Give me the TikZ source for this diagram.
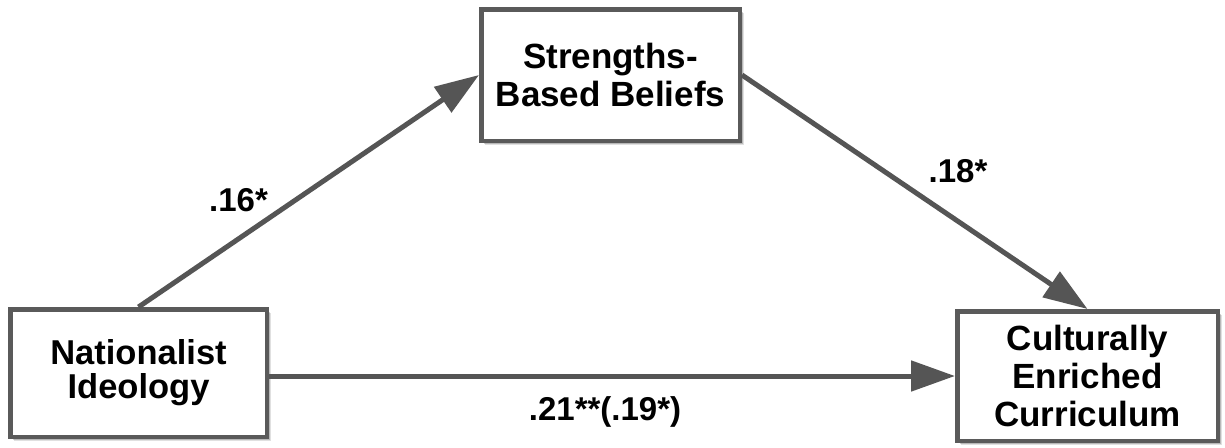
\documentclass[tikz,border=0pt]{standalone}
\usepackage{fontspec}
\setmainfont{Liberation Sans}
\usetikzlibrary{arrows.meta,shadows}
\definecolor{linegray}{HTML}{555555}
\definecolor{boxgray}{HTML}{5A5A5A}
\tikzset{
  varbox/.style={draw=boxgray, line width=4.5pt, fill=white, align=center,
    font=\bfseries\fontsize{35}{38}\selectfont, inner sep=0pt,
    drop shadow={shadow xshift=4pt, shadow yshift=-4pt, opacity=0.12, fill=black},
    drop shadow={shadow xshift=3pt, shadow yshift=-3pt, opacity=0.18, fill=black},
    drop shadow={shadow xshift=1.5pt, shadow yshift=-1.5pt, opacity=0.25, fill=black}},
  path/.style={draw=linegray, line width=5pt, -{Triangle[length=44pt,width=30pt]}},
  coef/.style={font=\bfseries\fontsize{33}{36}\selectfont, anchor=base, inner sep=0pt}
}
\begin{document}
\begin{tikzpicture}[x=1pt,y=-1pt]
\useasboundingbox (0,0) rectangle (1225,447);
\node[varbox, minimum width=256.5pt, minimum height=127.5pt,
  font=\bfseries\fontsize{34.5}{34}\selectfont] (ni) at (138.5,373) {Nationalist\\Ideology};
\node[varbox, minimum width=258.5pt, minimum height=131.5pt] (sb) at (610.5,75) {Strengths-\\Based Beliefs};
\node[varbox, minimum width=260.5pt, minimum height=129.5pt] (cc) at (1087.5,376) {Culturally\\Enriched\\Curriculum};
\draw[path] (ni.north) -- (sb.west);
\draw[path] (sb.east) -- (cc.north);
\draw[path] (ni.east |- 0,376) coordinate (h) -- (cc.west);
\node[coef] (l1) at (238.5,211) {.16*};
\node[coef] (l2) at (958,182) {.18*};
\node[coef] (l3) at (605,420) {.21**(.19*)};
\end{tikzpicture}
\end{document}
